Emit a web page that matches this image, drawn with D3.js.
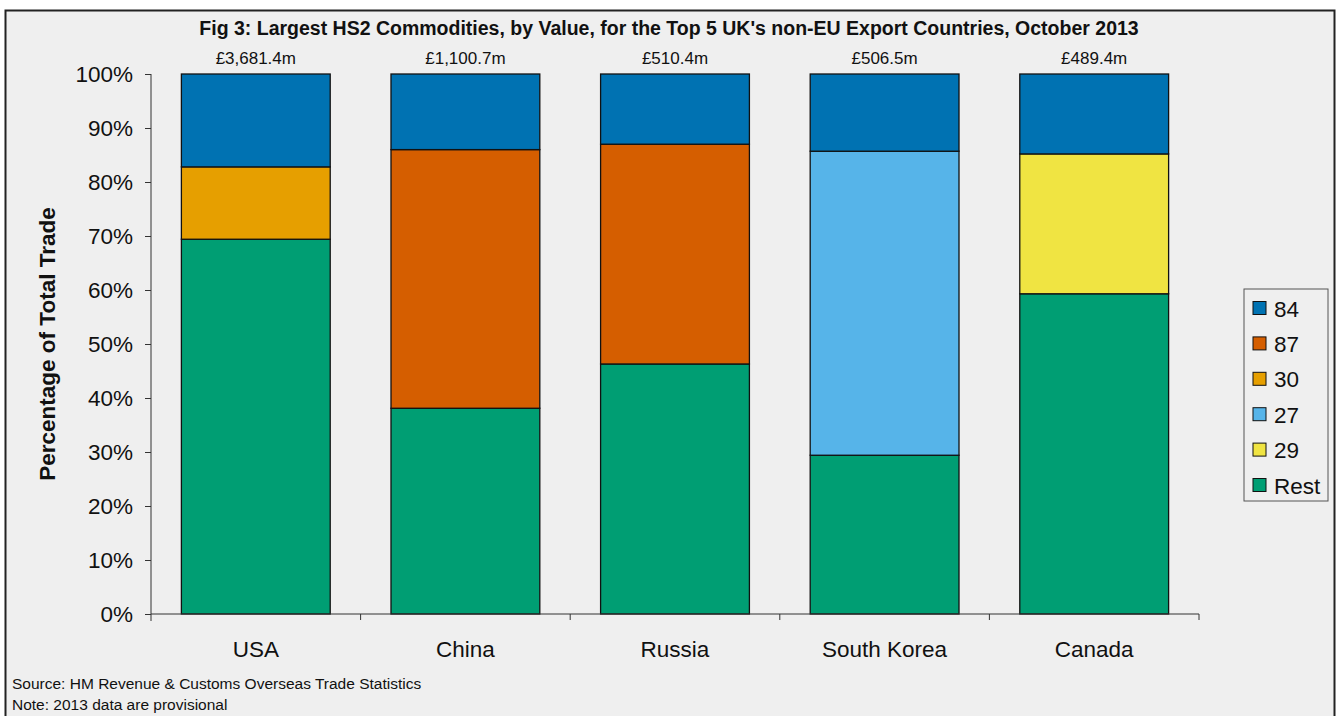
<!DOCTYPE html>
<html>
<head>
<meta charset="utf-8">
<script src="https://cdn.jsdelivr.net/npm/d3@7"></script>
<style>
  body { margin: 0; background: #fff; }
  svg { font-family: Arial, "Liberation Sans", sans-serif; }
</style>
</head>
<body>
<div id="chart"></div>
<script>
const countries = ['USA', 'China', 'Russia', 'South Korea', 'Canada'];
const totals = ['£3,681.4m', '£1,100.7m', '£510.4m', '£506.5m', '£489.4m'];
const seriesKeys = ['Rest', '29', '27', '30', '87', '84'];
const legendKeys = ['84', '87', '30', '27', '29', 'Rest'];

// shares in percent, one array per commodity, in country order
const rest = [69.4, 38.1, 46.3, 29.4, 59.3];
const hs29 = [0, 0, 0, 0, 25.9];
const hs27 = [0, 0, 0, 56.3, 0];
const hs30 = [13.4, 0, 0, 0, 0];
const hs87 = [0, 47.9, 40.7, 0, 0];
const hs84 = [17.2, 14.0, 13.0, 14.3, 14.8];

const yTicks = [0, 10, 20, 30, 40, 50, 60, 70, 80, 90, 100];

const colors = {
  '84': '#0072b2',
  '87': '#d55e00',
  '30': '#e69f00',
  '27': '#56b4e9',
  '29': '#f0e442',
  'Rest': '#009e73'
};

const W = 1338, H = 716;
const margin = { top: 74, left: 151, right: 139, bottom: 102 };
const innerH = H - margin.top - margin.bottom;
const axisRight = 1199;

const rows = countries.map((c, i) => ({
  country: c,
  'Rest': rest[i], '29': hs29[i], '27': hs27[i],
  '30': hs30[i], '87': hs87[i], '84': hs84[i]
}));

const svg = d3.select('#chart').append('svg')
  .attr('width', W)
  .attr('height', H);

// outer frame
svg.append('rect')
  .attr('x', 5.5).attr('y', 10.5)
  .attr('width', 1329).attr('height', 720)
  .attr('fill', '#efefef')
  .attr('stroke', '#222')
  .attr('stroke-width', 2);

const x = d3.scaleBand()
  .domain(countries)
  .range([margin.left, axisRight])
  .paddingInner(0.29)
  .paddingOuter(0.145);

const y = d3.scaleLinear()
  .domain([0, 100])
  .range([margin.top + innerH, margin.top]);

const stacked = d3.stack().keys(seriesKeys)(rows);

// bars
svg.append('g')
  .selectAll('g')
  .data(stacked)
  .join('g')
  .attr('fill', d => colors[d.key])
  .selectAll('rect')
  .data(d => d.filter(p => p[1] - p[0] > 0))
  .join('rect')
  .attr('x', d => x(d.data.country))
  .attr('y', d => y(d[1]))
  .attr('width', x.bandwidth())
  .attr('height', d => y(d[0]) - y(d[1]))
  .attr('stroke', '#111')
  .attr('stroke-width', 1.3);

// y axis
const yAxis = svg.append('g')
  .attr('transform', 'translate(' + margin.left + ',0)')
  .call(d3.axisLeft(y).tickValues(yTicks).tickFormat(d => d + '%').tickSize(6).tickPadding(12));
yAxis.select('.domain').attr('d', 'M0,' + y(100) + 'V' + (y(0) + 7)).attr('stroke', '#333');
yAxis.selectAll('.tick line').attr('stroke', '#333');
yAxis.selectAll('text').attr('font-size', 22.5).attr('fill', '#111')
  .attr('font-family', 'Arial, "Liberation Sans", sans-serif');

// x axis, ticks sit between categories
const xAxisG = svg.append('g');
xAxisG.append('line')
  .attr('x1', margin.left).attr('x2', axisRight)
  .attr('y1', y(0)).attr('y2', y(0))
  .attr('stroke', '#333');
const sep = d => Math.min(x(d) + x.bandwidth() + x.step() * x.paddingInner() / 2, axisRight);
xAxisG.selectAll('line.xt')
  .data(countries)
  .join('line')
  .attr('class', 'xt')
  .attr('x1', sep).attr('x2', sep)
  .attr('y1', y(0)).attr('y2', y(0) + 6)
  .attr('stroke', '#333');
xAxisG.selectAll('text')
  .data(countries)
  .join('text')
  .attr('x', d => x(d) + x.bandwidth() / 2)
  .attr('y', 657)
  .attr('text-anchor', 'middle')
  .attr('font-size', 22.5)
  .attr('fill', '#111')
  .text(d => d);

// totals above bars
svg.append('g')
  .selectAll('text')
  .data(countries)
  .join('text')
  .attr('x', d => x(d) + x.bandwidth() / 2)
  .attr('y', 64)
  .attr('text-anchor', 'middle')
  .attr('font-size', 17)
  .attr('fill', '#111')
  .text((d, i) => totals[i]);

// title
svg.append('text')
  .attr('x', 669)
  .attr('y', 35)
  .attr('text-anchor', 'middle')
  .attr('font-size', 19.5)
  .attr('font-weight', 'bold')
  .attr('fill', '#111')
  .text("Fig 3: Largest HS2 Commodities, by Value, for the Top 5 UK's non-EU Export Countries, October 2013");

// y axis title
svg.append('text')
  .attr('transform', 'translate(55,' + y(50) + ') rotate(-90)')
  .attr('text-anchor', 'middle')
  .attr('font-size', 22.5)
  .attr('font-weight', 'bold')
  .attr('fill', '#111')
  .text('Percentage of Total Trade');

// legend
const legend = svg.append('g').attr('transform', 'translate(1244,289)');
legend.append('rect')
  .attr('width', 84).attr('height', 212)
  .attr('fill', '#efefef')
  .attr('stroke', '#555');
const item = legend.selectAll('g.item')
  .data(legendKeys)
  .join('g')
  .attr('class', 'item')
  .attr('transform', (d, i) => 'translate(9,' + (19 + i * 35.4) + ')');
item.append('rect')
  .attr('x', 0).attr('y', -6.5)
  .attr('width', 13).attr('height', 13)
  .attr('fill', d => colors[d])
  .attr('stroke', '#111');
item.append('text')
  .attr('x', 21).attr('y', 8.5)
  .attr('font-size', 22.5)
  .attr('fill', '#111')
  .text(d => d);

// notes
svg.append('text')
  .attr('x', 12).attr('y', 689)
  .attr('font-size', 15.5).attr('fill', '#111')
  .text('Source: HM Revenue & Customs Overseas Trade Statistics');
svg.append('text')
  .attr('x', 12).attr('y', 710)
  .attr('font-size', 15.5).attr('fill', '#111')
  .text('Note: 2013 data are provisional');
</script>
</body>
</html>
